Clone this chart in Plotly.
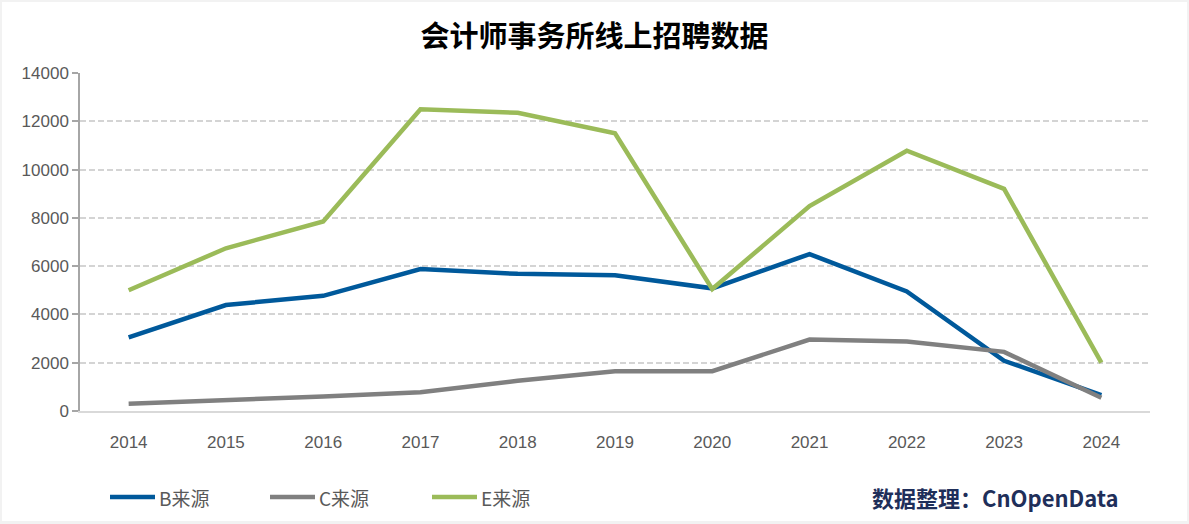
import plotly.graph_objects as go

years = ["2014", "2015", "2016", "2017", "2018", "2019", "2020", "2021", "2022", "2023", "2024"]
b_source = [3050, 4390, 4770, 5880, 5680, 5620, 5080, 6500, 4950, 2080, 660]
c_source = [300, 440, 600, 780, 1250, 1650, 1650, 2960, 2880, 2450, 550]
e_source = [5000, 6740, 7850, 12500, 12350, 11500, 5050, 8490, 10780, 9200, 2000]
series_names = ["B来源", "C来源", "E来源"]
series_colors = ["#00599b", "#808080", "#9bbb59"]
y_ticks = [0, 2000, 4000, 6000, 8000, 10000, 12000, 14000]
y_ticktext = ["0", "2000", "4000", "6000", "8000", "10000", "12000", "14000"]

W, H = 1189, 524
L, R, T, B = 80, 39, 73, 113
PW, PH = W - L - R, H - T - B


def px_x(x):
    return (x - L) / PW


def px_y(y):
    return (T + PH - y) / PH


fig = go.Figure()
for name, vals, col in zip(series_names, [b_source, c_source, e_source], series_colors):
    fig.add_trace(go.Scatter(x=years, y=vals, name=name, mode="lines",
                             line=dict(color=col, width=4.5), showlegend=False))

shapes = [dict(type="rect", xref="paper", yref="paper",
               x0=px_x(2), x1=px_x(1187), y0=px_y(521), y1=px_y(2),
               fillcolor="#ffffff", line=dict(width=0), layer="below")]
annotations = []
legend_x = [110, 270, 432]
for lx, name, col in zip(legend_x, series_names, series_colors):
    shapes.append(dict(type="line", xref="paper", yref="paper",
                       x0=px_x(lx), x1=px_x(lx + 45), y0=px_y(497), y1=px_y(497),
                       line=dict(color=col, width=4.5)))
    annotations.append(dict(text=name, xref="paper", yref="paper",
                            x=px_x(lx + 47), xanchor="left", y=px_y(497), yanchor="middle",
                            showarrow=False,
                            font=dict(family="Noto Sans CJK SC", size=19, color="#595959")))
annotations.append(dict(text="<b>数据整理：CnOpenData</b>", xref="paper", yref="paper",
                        x=px_x(1121), xanchor="right", y=px_y(497), yanchor="middle",
                        showarrow=False,
                        font=dict(family="Noto Sans CJK SC", size=22, color="#1f2f5a")))

fig.update_layout(
    width=W, height=H,
    margin=dict(l=L, r=R, t=T, b=B),
    paper_bgcolor="#f2f2f2",
    plot_bgcolor="rgba(0,0,0,0)",
    font=dict(family="Liberation Sans, Arial, sans-serif", color="#595959", size=17),
    title=dict(text="<b>会计师事务所线上招聘数据</b>",
               font=dict(family="Noto Sans CJK SC", size=29, color="#000000"),
               x=0.5, xanchor="center", xref="container",
               y=1 - 37 / H, yanchor="middle", yref="container"),
    shapes=shapes,
    annotations=annotations,
    showlegend=False,
    xaxis=dict(type="category", range=[-0.5, 10.5], showgrid=False,
               showline=True, linecolor="#d9d9d9", linewidth=2,
               ticks="", ticklabelstandoff=15,
               tickfont=dict(family="Liberation Sans, Arial, sans-serif", size=17, color="#595959")),
    yaxis=dict(range=[0, 14000], tickvals=y_ticks, ticktext=y_ticktext, showgrid=True,
               gridcolor="#d4d4d4", griddash="6px,3px", gridwidth=1.5,
               showline=True, linecolor="#a6a6a6", linewidth=1.5,
               ticks="outside", ticklen=6, tickcolor="#a6a6a6", tickwidth=1.5,
               zeroline=False,
               tickfont=dict(family="Liberation Sans, Arial, sans-serif", size=17, color="#595959")),
)

fig.write_html("out.html", config={"displayModeBar": False},
               post_script="document.body.style.margin='0';document.body.style.background='#f2f2f2';")
